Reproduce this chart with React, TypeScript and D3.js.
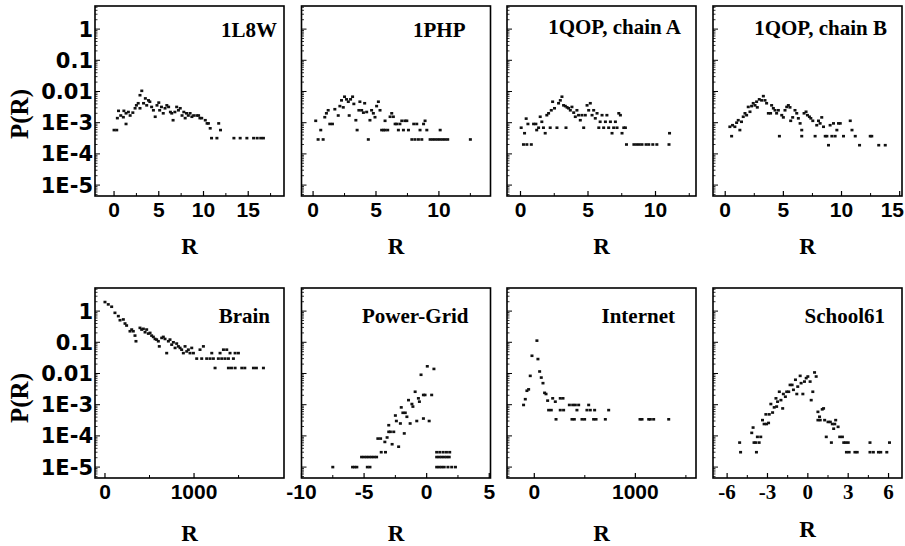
import React from 'react';
import * as d3 from 'd3';

// ---------- data: [R, P(R)] ----------
const data1L8W: [number, number][] = [
  [0, 5.8e-4], [0.3, 5.8e-4], [0.37, 1.4e-3], [0.5, 2.4e-3], [0.75, 1.7e-3], [1.04, 1.5e-3], [1.1, 2.4e-3],
  [1.34, 9.1e-4], [1.34, 2.0e-3], [1.6, 2.2e-3], [1.8, 1.7e-3], [2.1, 2.1e-3], [2.35, 2.9e-3], [2.5, 3.6e-3],
  [2.7, 4.2e-3], [2.9, 2.9e-3], [2.9, 7.6e-3], [3.1, 1.05e-2], [3.3, 4.2e-3], [3.5, 6.0e-3], [3.65, 3.6e-3],
  [3.85, 5.2e-3], [4.0, 4.7e-3], [4.2, 3.2e-3], [4.4, 2.5e-3], [4.6, 1.55e-3], [4.8, 3.6e-3], [5.0, 4.4e-3],
  [5.1, 2.5e-3], [5.3, 3.2e-3], [5.5, 2.0e-3], [5.7, 2.9e-3], [5.9, 3.6e-3], [6.1, 3.2e-3], [6.3, 2.2e-3],
  [6.45, 2.0e-3], [6.6, 1.2e-3], [6.8, 2.2e-3], [7.0, 3.2e-3], [7.2, 2.5e-3], [7.4, 2.9e-3], [7.6, 1.7e-3],
  [7.8, 2.2e-3], [7.95, 1.4e-3], [8.1, 2.0e-3], [8.3, 1.7e-3], [8.5, 2.0e-3], [8.7, 1.55e-3], [8.9, 1.7e-3],
  [9.25, 1.7e-3], [9.45, 1.7e-3], [9.6, 1.4e-3], [9.8, 1.4e-3], [10.2, 1.2e-3], [10.4, 9.5e-4], [10.55, 9.5e-4],
  [10.75, 6.6e-4], [10.9, 3.2e-4], [11.5, 3.2e-4], [11.7, 9.5e-4], [11.9, 5.8e-4], [13.4, 3.2e-4], [14.1, 3.2e-4],
  [14.85, 3.2e-4], [15.6, 3.2e-4], [16.0, 3.2e-4], [16.4, 3.2e-4], [16.7, 3.2e-4],
];

const data1PHP: [number, number][] = [
  [0.21, 1.15e-3], [0.4, 2.9e-4], [0.8, 2.9e-4], [0.61, 5.8e-4], [0.93, 1.5e-3], [1.06, 2.0e-3], [1.2, 2.5e-3],
  [1.33, 9.1e-4], [1.54, 9.1e-4], [1.73, 2.7e-3], [2.0, 1.7e-3], [2.13, 3.4e-3], [2.26, 5.2e-3], [2.4, 3.1e-3],
  [2.5, 6.8e-3], [2.66, 5.6e-3], [2.8, 4.7e-3], [2.87, 1.7e-3], [2.98, 5.6e-3], [3.14, 6.8e-3], [3.24, 4.0e-3],
  [3.4, 1.2e-3], [3.5, 5.8e-4], [3.64, 2.5e-3], [3.72, 4.7e-3], [3.86, 2.5e-3], [4.0, 2.1e-3], [4.1, 4.2e-3],
  [4.26, 2.2e-3], [4.39, 2.9e-4], [4.52, 1.2e-3], [4.65, 2.5e-3], [4.79, 2.0e-3], [4.92, 1.5e-3], [5.05, 3.4e-3],
  [5.19, 4.7e-3], [5.32, 2.5e-3], [5.45, 5.8e-4], [5.6, 5.8e-4], [5.72, 5.8e-4], [5.93, 5.8e-4], [5.72, 1.15e-3],
  [6.12, 1.55e-3], [6.25, 2.0e-3], [6.38, 1.55e-3], [6.52, 9.1e-4], [6.65, 9.1e-4], [6.78, 5.8e-4], [6.9, 9.1e-4],
  [7.05, 1.15e-3], [7.18, 5.8e-4], [7.3, 1.15e-3], [7.45, 1.15e-3], [7.58, 5.8e-4], [7.85, 2.9e-4], [8.0, 9.1e-4],
  [8.24, 9.1e-4], [8.1, 2.9e-4], [8.37, 2.9e-4], [8.5, 5.8e-4], [8.64, 2.9e-4], [8.78, 9.1e-4], [8.9, 1.15e-3],
  [9.04, 5.8e-4], [9.3, 2.9e-4], [9.5, 2.9e-4], [9.7, 2.9e-4], [9.9, 2.9e-4], [10.1, 5.8e-4], [10.1, 2.9e-4],
  [10.3, 2.9e-4], [10.5, 2.9e-4], [10.7, 2.9e-4], [12.5, 2.9e-4],
];

const data1QOPA: [number, number][] = [
  [0.05, 6.9e-4], [0.22, 2.0e-4], [0.47, 2.0e-4], [0.8, 2.0e-4], [0.3, 4.6e-4], [0.42, 1.35e-3], [0.55, 9.1e-4],
  [0.97, 9.1e-4], [1.14, 9.1e-4], [1.2, 5.8e-4], [1.34, 6.9e-4], [1.46, 1.55e-3], [1.58, 1.07e-3], [1.7, 6.9e-4],
  [1.83, 4.6e-4], [1.95, 1.74e-3], [2.08, 2.0e-3], [2.2, 6.9e-4], [2.28, 2.5e-3], [2.38, 4.7e-3], [2.52, 2.9e-3],
  [2.7, 6.9e-4], [2.82, 4.2e-3], [2.95, 5.2e-3], [3.07, 6.8e-3], [3.19, 3.6e-3], [3.32, 3.4e-3], [3.37, 6.9e-4],
  [3.45, 3.1e-3], [3.56, 2.9e-3], [3.69, 2.5e-3], [3.81, 3.2e-3], [3.94, 2.1e-3], [4.06, 1.55e-3], [4.18, 2.5e-3],
  [4.3, 1.74e-3], [4.43, 1.2e-3], [4.55, 1.74e-3], [4.68, 6.9e-4], [4.8, 1.74e-3], [4.93, 3.6e-3], [5.05, 2.5e-3],
  [5.17, 4.2e-3], [5.3, 1.74e-3], [5.42, 2.5e-3], [5.54, 1.38e-3], [5.67, 2.0e-3], [5.8, 6.9e-4], [5.9, 1.07e-3],
  [6.04, 1.74e-3], [6.16, 6.9e-4], [6.29, 1.07e-3], [6.4, 1.74e-3], [6.53, 6.9e-4], [6.66, 1.07e-3], [6.78, 4.6e-4],
  [6.9, 6.9e-4], [7.03, 1.07e-3], [7.15, 6.9e-4], [7.28, 2.0e-3], [7.4, 1.74e-3], [7.52, 4.6e-4], [7.65, 6.9e-4],
  [7.77, 6.9e-4], [7.85, 2.0e-4], [8.4, 2.0e-4], [8.6, 2.0e-4], [8.8, 2.0e-4], [9.0, 2.0e-4], [9.3, 2.0e-4],
  [9.5, 2.0e-4], [9.8, 2.0e-4], [10.1, 2.0e-4], [11.0, 2.0e-4], [11.04, 4.6e-4],
];

const data1QOPB: [number, number][] = [
  [0.4, 7.4e-4], [0.55, 3.7e-4], [0.63, 8.3e-4], [0.83, 7.4e-4], [0.98, 1.0e-3], [1.12, 1.2e-3], [1.26, 5.8e-4],
  [1.4, 1.07e-3], [1.55, 1.55e-3], [1.7, 2.0e-3], [1.84, 1.74e-3], [1.98, 3.2e-3], [2.13, 2.24e-3], [2.27, 3.4e-3],
  [2.41, 4.2e-3], [2.56, 3.6e-3], [2.7, 4.7e-3], [2.76, 3.1e-3], [2.93, 5.6e-3], [3.13, 5.2e-3], [3.28, 7.1e-3],
  [3.42, 5.2e-3], [3.56, 4.2e-3], [3.71, 2.0e-3], [3.9, 2.0e-3], [3.99, 3.6e-3], [4.14, 2.9e-3], [4.28, 2.5e-3],
  [4.42, 2.0e-3], [4.57, 2.5e-3], [4.66, 3.7e-4], [4.86, 1.74e-3], [5.0, 1.48e-3], [5.14, 2.5e-3], [5.29, 3.2e-3],
  [5.43, 3.6e-3], [5.57, 3.1e-3], [5.63, 1.15e-3], [5.8, 1.48e-3], [6.0, 2.5e-3], [6.15, 2.0e-3], [6.29, 1.38e-3],
  [6.44, 9.5e-4], [6.58, 5.8e-4], [6.58, 3.7e-4], [6.78, 2.0e-3], [6.95, 2.24e-3], [7.07, 1.74e-3], [7.24, 1.55e-3],
  [7.36, 1.38e-3], [7.53, 1.15e-3], [7.73, 3.7e-4], [7.87, 8.3e-4], [8.02, 1.15e-3], [8.16, 9.5e-4], [8.3, 1.48e-3],
  [8.45, 7.4e-4], [8.6, 3.7e-4], [8.74, 3.7e-4], [8.88, 1.9e-4], [9.02, 8.3e-4], [9.17, 3.7e-4], [9.31, 9.5e-4],
  [9.45, 3.7e-4], [9.6, 5.8e-4], [9.74, 9.5e-4], [9.89, 9.5e-4], [10.17, 3.7e-4], [10.75, 1.15e-3], [10.9, 5.8e-4],
  [11.18, 3.7e-4], [11.55, 1.9e-4], [12.47, 3.7e-4], [12.6, 3.7e-4], [13.2, 1.9e-4], [13.76, 1.9e-4],
];

const dataBrain: [number, number][] = [
  [0, 1.95], [37, 1.64], [75, 1.38], [112, 0.88], [150, 0.69], [169, 0.51], [206, 0.54], [225, 0.40], [243, 0.345],
  [281, 0.226], [300, 0.256], [318, 0.226], [337, 0.164], [348, 0.108], [393, 0.29], [412, 0.256], [431, 0.27],
  [450, 0.21], [468, 0.256], [487, 0.19], [506, 0.2], [524, 0.164], [543, 0.149], [562, 0.128], [580, 0.122],
  [599, 0.108], [610, 0.074], [637, 0.138], [655, 0.149], [674, 0.128], [693, 0.045], [712, 0.108], [730, 0.122],
  [749, 0.084], [768, 0.1], [787, 0.066], [805, 0.091], [824, 0.074], [843, 0.066], [861, 0.058], [880, 0.045],
  [899, 0.074], [918, 0.051], [936, 0.058], [955, 0.045], [974, 0.066], [993, 0.045], [1030, 0.03], [1067, 0.058],
  [1086, 0.03], [1105, 0.074], [1142, 0.03], [1180, 0.03], [1199, 0.045], [1217, 0.03], [1236, 0.015], [1273, 0.03],
  [1292, 0.045], [1311, 0.03], [1330, 0.058], [1348, 0.03], [1367, 0.058], [1386, 0.03], [1404, 0.045], [1442, 0.03],
  [1461, 0.045], [1498, 0.045], [1386, 0.015], [1420, 0.015], [1461, 0.015], [1536, 0.015], [1570, 0.015],
  [1667, 0.015], [1700, 0.015], [1779, 0.015],
];

const dataPowerGrid: [number, number][] = [
  [-7.5, 1e-5], [-5.92, 1e-5], [-5.75, 1e-5], [-5.58, 1e-5], [-4.74, 1e-5], [-4.53, 1e-5],
  [-5.2, 2.1e-5], [-5.0, 2.1e-5], [-4.8, 2.1e-5], [-4.6, 2.1e-5], [-4.4, 2.1e-5], [-4.2, 2.1e-5], [-4.0, 2.1e-5],
  [-3.63, 3.0e-5], [-3.29, 3.0e-5], [-3.9, 8.2e-5], [-3.68, 8.2e-5], [-3.34, 6.4e-5], [-3.16, 8.9e-5],
  [-3.03, 1.35e-4], [-3.03, 2.2e-4], [-2.9, 1.35e-4], [-2.76, 5.4e-5], [-2.63, 1.35e-4], [-2.5, 4.5e-4],
  [-2.42, 3.0e-4], [-2.24, 4.5e-5], [-2.1, 2.5e-4], [-2.03, 8.2e-4], [-1.9, 5.5e-4], [-1.79, 1.2e-4],
  [-1.71, 5.5e-4], [-1.58, 4.1e-4], [-1.45, 1.4e-3], [-1.32, 2.5e-4], [-1.18, 1.05e-3], [-1.1, 8.7e-4],
  [-0.92, 2.6e-3], [-0.79, 3.0e-4], [-0.66, 1.6e-3], [-0.58, 1.25e-3], [-0.45, 9.1e-3], [-0.26, 2.05e-3],
  [-0.13, 2.05e-3], [-0.26, 3.6e-4], [0.2, 3.0e-4], [0.05, 0.017], [0.4, 2.05e-3], [0.58, 0.014],
  [0.8, 3e-5], [1.05, 3e-5], [1.32, 3e-5], [1.58, 3e-5], [1.84, 3e-5],
  [0.8, 2.1e-5], [1.0, 2.1e-5], [1.2, 2.1e-5], [1.4, 2.1e-5], [1.6, 2.1e-5], [1.8, 2.1e-5],
  [0.8, 1e-5], [1.0, 1e-5], [1.2, 1e-5], [1.4, 1e-5], [1.7, 1e-5], [2.0, 1e-5], [2.3, 1e-5],
];

const dataInternet: [number, number][] = [
  [-106, 9.8e-4], [-89, 1.5e-3], [-73, 2.8e-3], [-56, 3.1e-3], [-40, 8.4e-3], [-23, 0.037], [26, 0.113],
  [36, 0.029], [53, 0.0116], [69, 7.4e-3], [86, 4.9e-3], [102, 2.4e-3], [116, 2.2e-3], [132, 1.35e-3],
  [142, 6.7e-4], [168, 6.7e-4], [182, 1.6e-3], [208, 1.25e-3], [215, 3.4e-4], [257, 1.6e-3], [284, 1.6e-3],
  [257, 6.7e-4], [290, 6.7e-4], [347, 9.8e-4], [380, 9.8e-4], [373, 3.4e-4], [396, 3.4e-4], [406, 9.8e-4],
  [439, 9.8e-4], [422, 6.7e-4], [472, 3.4e-4], [498, 3.4e-4], [521, 6.7e-4], [538, 9.8e-4], [554, 6.7e-4],
  [587, 3.4e-4], [611, 3.4e-4], [597, 6.7e-4], [703, 3.4e-4], [736, 6.7e-4], [1046, 3.4e-4], [1066, 3.4e-4],
  [1132, 3.4e-4], [1148, 3.4e-4], [1181, 3.4e-4], [1330, 3.4e-4],
];

const dataSchool61: [number, number][] = [
  [-5.07, 6.1e-5], [-5.0, 3.0e-5], [-4.17, 1.25e-4], [-4.07, 1.85e-4], [-4.0, 6.1e-5], [-3.87, 6.1e-5],
  [-3.82, 3.0e-5], [-3.75, 9.3e-5], [-3.62, 6.1e-5], [-3.5, 9.3e-5], [-3.37, 3.2e-4], [-3.25, 2.4e-4],
  [-3.07, 2.4e-4], [-3.12, 4.9e-4], [-2.92, 2.6e-4], [-2.87, 4.9e-4], [-2.75, 1.05e-3], [-2.62, 5.6e-4],
  [-2.5, 8.2e-4], [-2.37, 1.6e-3], [-2.32, 8.7e-4], [-2.25, 1.25e-3], [-2.12, 2.6e-3], [-2.0, 1.4e-3],
  [-1.87, 7.6e-4], [-1.82, 2.2e-3], [-1.67, 1.8e-3], [-1.57, 2.6e-3], [-1.42, 2.6e-3], [-1.32, 4.3e-3],
  [-1.17, 4.3e-3], [-1.07, 3.0e-3], [-0.92, 6.3e-3], [-0.82, 2.2e-3], [-0.75, 3.8e-3], [-0.57, 8.4e-3],
  [-0.5, 4.9e-3], [-0.37, 2.2e-3], [-0.25, 5.5e-3], [-0.12, 7.1e-3], [0, 8.0e-3], [0.17, 5.5e-3], [0.25, 1.4e-3],
  [0.37, 2.6e-3], [0.5, 0.0108], [0.62, 8.0e-3], [0.75, 5.9e-4], [0.75, 3.2e-4], [0.87, 4.1e-4], [0.92, 3.2e-4],
  [1.07, 7.1e-4], [1.17, 7.6e-4], [1.25, 3.2e-4], [1.37, 9.3e-5], [1.5, 2.8e-4], [1.67, 2.8e-4], [1.75, 6.1e-5],
  [1.82, 2.4e-4], [1.92, 1.7e-4], [2.0, 2.4e-4], [2.07, 3.2e-4], [2.25, 1.95e-4], [2.37, 9.3e-5], [2.57, 9.3e-5],
  [2.67, 6.1e-5], [2.82, 6.1e-5], [3.0, 6.1e-5], [2.87, 3.0e-5], [3.07, 3.0e-5], [3.5, 3.0e-5], [3.67, 3.0e-5],
  [4.62, 6.1e-5], [4.62, 3.0e-5], [4.87, 3.0e-5], [5.25, 3.0e-5], [5.42, 3.0e-5], [5.87, 3.0e-5], [6.07, 6.1e-5],
];

// ---------- axes ----------
const titles = ['1L8W', '1PHP', '1QOP, chain A', '1QOP, chain B', 'Brain', 'Power-Grid', 'Internet', 'School61'];
const yTickValues = [1e-5, 1e-4, 1e-3, 1e-2, 1e-1, 1];
const yTickLabels = ['1E-5', '1E-4', '1E-3', '0.01', '0.1', '1'];
const yDomain: [number, number] = [4.47e-6, 5.5];

const xDomains: [number, number][] = [
  [-2.13, 19.0], [-0.92, 14.1], [-1.0, 13.0], [-1.05, 15.2],
  [-112, 2010], [-10.0, 5.1], [-270, 1600], [-7.05, 7.0],
];
const xTicks: number[][] = [
  [0, 5, 10, 15], [0, 5, 10], [0, 5, 10], [0, 5, 10, 15],
  [0, 1000], [-10, -5, 0, 5], [0, 1000], [-6, -3, 0, 3, 6],
];
const xMinorTicks: number[][] = [
  [2.5, 7.5, 12.5, 17.5], [2.5, 7.5, 12.5], [2.5, 7.5, 12.5], [2.5, 7.5, 12.5],
  [500, 1500], [-7.5, -2.5, 2.5], [500, 1500], [-4.5, -1.5, 1.5, 4.5],
];
const xTickLabels: string[][] = [
  ['0', '5', '10', '15'], ['0', '5', '10'], ['0', '5', '10'], ['0', '5', '10', '15'],
  ['0', '1000'], ['-10', '-5', '0', '5'], ['0', '1000'], ['-6', '-3', '0', '3', '6'],
];
const allData = [data1L8W, data1PHP, data1QOPA, data1QOPB, dataBrain, dataPowerGrid, dataInternet, dataSchool61];

// ---------- layout ----------
const colX = [95, 301.5, 507, 713];
const rowY = [6, 288];
const PW = 189;
const PH = 190;
const titlePad = [7, 25, 15, 15, 14, 22, 21, 17];
const titleBase = [31, 31, 28, 29, 35, 35, 35, 35];
const rLabelY = [254, 254, 254, 254, 541, 541, 541, 537];
const RIGHT_EDGE = 904;

const SERIF = "'Liberation Serif', 'Times New Roman', serif";
const SANS = "'Liberation Sans', Arial, sans-serif";
const WIDE = "'DejaVu Sans', sans-serif";

function Panel({ i }: { i: number }) {
  const col = i % 4;
  const row = Math.floor(i / 4);
  const x0 = colX[col];
  const y0 = rowY[row];
  const x = d3.scaleLinear().domain(xDomains[i]).range([x0, x0 + PW]);
  const y = d3.scaleLog().domain(yDomain).range([y0 + PH, y0]);
  const minorY: number[] = [];
  for (let e = -6; e <= 0; e++) {
    for (let m = 2; m <= 9; m++) {
      const v = m * Math.pow(10, e);
      if (v > yDomain[0] && v < yDomain[1]) minorY.push(v);
    }
  }
  const yb = y0 + PH;
  const serifTicks = i === 7;
  return (
    <g>
      {allData[i].map((d, k) => (
        <rect key={k} x={x(d[0]) - 1.5} y={y(d[1]) - 1.3} width={3} height={2.6} fill="#111" />
      ))}
      {yTickValues.map((v) => (
        <line key={'ym' + v} x1={x0} x2={x0 + 5} y1={y(v)} y2={y(v)} stroke="#000" strokeWidth={1} />
      ))}
      {minorY.map((v) => (
        <line key={'yn' + v} x1={x0} x2={x0 + 2.5} y1={y(v)} y2={y(v)} stroke="#000" strokeWidth={0.8} />
      ))}
      {xTicks[i].map((v) => (
        <line key={'xm' + v} x1={x(v)} x2={x(v)} y1={yb} y2={yb - 5} stroke="#000" strokeWidth={1.2} />
      ))}
      {xMinorTicks[i].map((v) => (
        <line key={'xn' + v} x1={x(v)} x2={x(v)} y1={yb} y2={yb - 3} stroke="#000" strokeWidth={1} />
      ))}
      <rect x={x0} y={y0} width={PW} height={PH} fill="none" stroke="#000" strokeWidth={1.6} />
      {xTicks[i].map((v, k) => {
        const px = x(v);
        const nearEdge = px + 11 > RIGHT_EDGE;
        return (
          <text key={'xl' + v} x={nearEdge ? RIGHT_EDGE : px} y={yb + 21} textAnchor={nearEdge ? 'end' : 'middle'}
            fontFamily={serifTicks ? SERIF : SANS} fontWeight="bold" fontSize={21} fill="#000">
            {xTickLabels[i][k]}
          </text>
        );
      })}
      {col === 0 && yTickValues.map((v, k) => (
        <text key={'yl' + v} x={x0 - 2} y={y(v)} dy="0.36em" textAnchor="end"
          fontFamily={WIDE} fontWeight="bold" fontSize={21} fill="#000">
          {yTickLabels[k]}
        </text>
      ))}
      <text x={x0 + PW - titlePad[i]} y={y0 + titleBase[i]} textAnchor="end"
        fontFamily={SERIF} fontWeight="bold" fontSize={21} fill="#000">
        {titles[i]}
      </text>
      <text x={x0 + PW / 2} y={rLabelY[i]} textAnchor="middle"
        fontFamily={SERIF} fontWeight="bold" fontSize={23} fill="#000">R</text>
      {col === 0 && (
        <text transform={`translate(28, ${row === 0 ? 114 : 398}) rotate(-90)`} textAnchor="middle"
          fontFamily={SERIF} fontWeight="bold" fontSize={25} fill="#000">P(R)</text>
      )}
    </g>
  );
}

export default function App() {
  return (
    <svg width={905} height={546} viewBox="0 0 905 546"
      style={{ position: 'absolute', left: 0, top: 0, background: '#fff' }}>
      <rect x={0} y={0} width={905} height={546} fill="#fff" />
      {titles.map((_, i) => <Panel key={i} i={i} />)}
    </svg>
  );
}
